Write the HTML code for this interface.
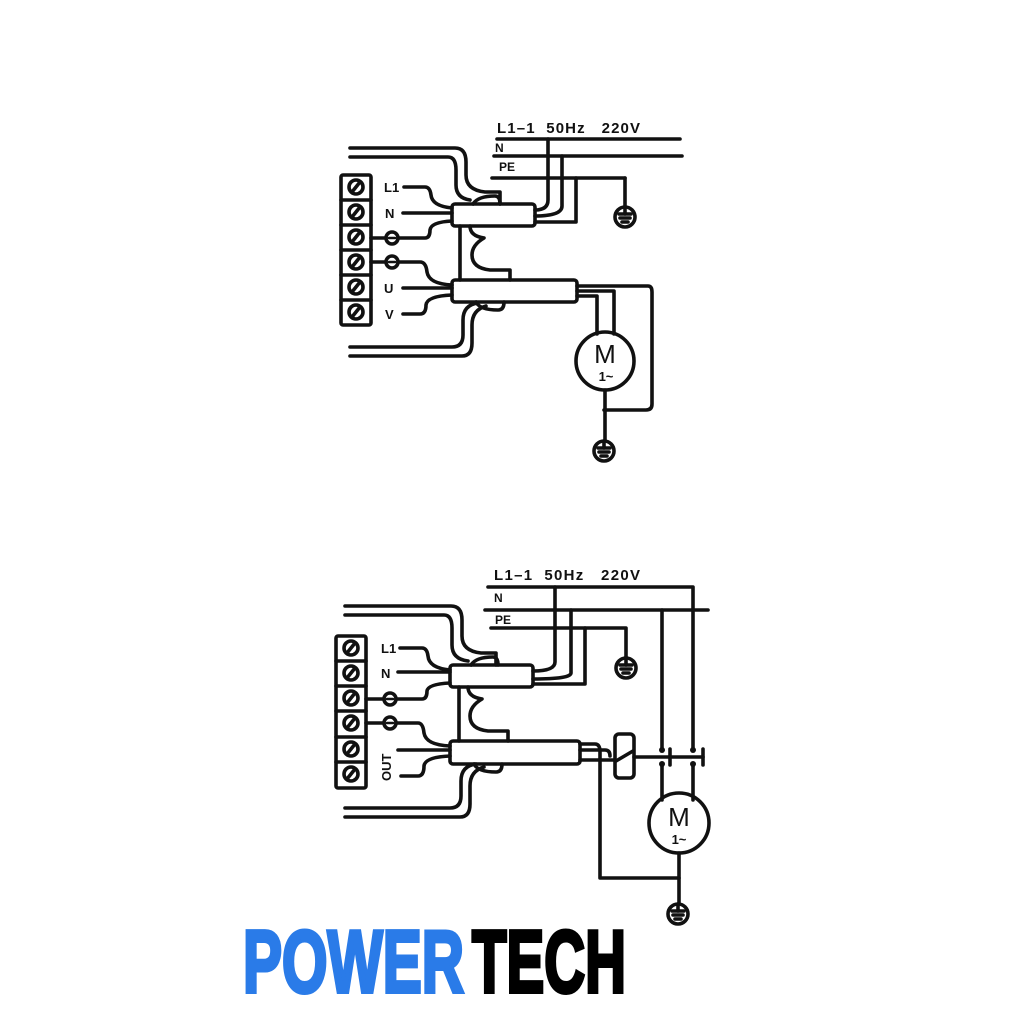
<!DOCTYPE html>
<html><head><meta charset="utf-8"><style>
html,body{margin:0;padding:0;background:#fff;}
svg{display:block;}
text{font-family:"Liberation Sans",sans-serif;font-weight:bold;fill:#111;}
</style></head><body>
<svg width="1024" height="1024" viewBox="0 0 1024 1024" xmlns="http://www.w3.org/2000/svg">
<g fill="none" stroke="#111" stroke-width="3.6" stroke-linecap="round" stroke-linejoin="round">
<!-- ===== TOP DIAGRAM ===== -->
<rect x="341" y="175" width="30" height="150" rx="2"/>
<line x1="341" y1="200" x2="371" y2="200"/><line x1="341" y1="225" x2="371" y2="225"/>
<line x1="341" y1="250" x2="371" y2="250"/><line x1="341" y1="275" x2="371" y2="275"/>
<line x1="341" y1="300" x2="371" y2="300"/>
<circle cx="356" cy="187" r="7"/><circle cx="356" cy="212" r="7"/><circle cx="356" cy="237" r="7"/>
<circle cx="356" cy="262" r="7"/><circle cx="356" cy="287" r="7"/><circle cx="356" cy="312" r="7"/>
<line x1="352" y1="192" x2="360" y2="182"/><line x1="352" y1="217" x2="360" y2="207"/><line x1="352" y1="242" x2="360" y2="232"/>
<line x1="352" y1="267" x2="360" y2="257"/><line x1="352" y1="292" x2="360" y2="282"/><line x1="352" y1="317" x2="360" y2="307"/>
<circle cx="392" cy="238" r="6"/><circle cx="392" cy="262" r="6"/>
<line x1="389" y1="238" x2="395" y2="238" stroke-width="2.5"/><line x1="389" y1="262" x2="395" y2="262" stroke-width="2.5"/>
<line x1="371" y1="238" x2="386" y2="238"/><line x1="371" y1="262" x2="386" y2="262"/>
<path d="M404 187 H425 Q430 187 431 195 Q432 206 452 208"/>
<path d="M403 213 H452"/>
<path d="M398 238 H425 Q430 238 430 230 Q431 222 452 221"/>
<path d="M398 262 H420 Q426 262 427 272 Q429 284 452 285"/>
<path d="M403 288 H452"/>
<path d="M403 314 H420 Q426 314 426 305 Q427 296 452 295"/>
<rect x="452" y="204" width="83" height="22" rx="3"/>
<rect x="452" y="280" width="125" height="22" rx="3"/>
<line x1="460" y1="226" x2="460" y2="280"/>
<path d="M470 226 Q470 236 484 238 Q472 245 472 255 Q472 268 490 270 H510 V280"/>
<path d="M473 204 Q478 196 495 196 Q500 196 500 204"/>
<path d="M476 302 Q480 310 498 310 Q504 310 504 302"/>
<path d="M350 148 H455 Q466 148 466 162 V175 Q466 190 485 192 H500 V204"/>
<path d="M350 157 H448 Q456 157 456 170 V185 Q456 198 470 200"/>
<path d="M350 347 H452 Q463 347 463 335 V320 Q463 305 478 303"/>
<path d="M350 356 H462 Q472 356 472 343 V325 Q472 310 486 306"/>
<line x1="497" y1="139" x2="680" y2="139"/>
<line x1="494" y1="156" x2="682" y2="156"/>
<line x1="492" y1="178" x2="625" y2="178"/>
<path d="M548 139 V200 Q548 210 535 210"/>
<path d="M562 156 V206 Q562 216 535 216"/>
<path d="M576 178 V222 H535"/>
<line x1="625" y1="178" x2="625" y2="207"/>
<circle cx="625" cy="217" r="10"/>
<line x1="619" y1="214" x2="631" y2="214"/><line x1="620" y1="218" x2="630" y2="218"/><line x1="622" y1="222" x2="628" y2="222"/><line x1="625" y1="207" x2="625" y2="214"/>
<path d="M577 286 H648 Q652 286 652 292 V404 Q652 410 646 410 H604"/>
<path d="M577 291 H614 V334"/>
<path d="M577 296 H597 V334"/>
<circle cx="605" cy="361" r="29"/>
<line x1="605" y1="390" x2="605" y2="441"/>
<circle cx="604" cy="451" r="10"/>
<line x1="598" y1="448" x2="610" y2="448"/><line x1="599" y1="452" x2="609" y2="452"/><line x1="601" y1="456" x2="607" y2="456"/><line x1="604" y1="441" x2="604" y2="448"/>

<!-- ===== BOTTOM DIAGRAM ===== -->
<rect x="336" y="636" width="30" height="152" rx="2"/>
<line x1="336" y1="661" x2="366" y2="661"/><line x1="336" y1="686" x2="366" y2="686"/>
<line x1="336" y1="711" x2="366" y2="711"/><line x1="336" y1="737" x2="366" y2="737"/>
<line x1="336" y1="762" x2="366" y2="762"/>
<circle cx="351" cy="648" r="7"/><circle cx="351" cy="673" r="7"/><circle cx="351" cy="698" r="7"/>
<circle cx="351" cy="723" r="7"/><circle cx="351" cy="749" r="7"/><circle cx="351" cy="774" r="7"/>
<line x1="347" y1="653" x2="355" y2="643"/><line x1="347" y1="678" x2="355" y2="668"/><line x1="347" y1="703" x2="355" y2="693"/>
<line x1="347" y1="728" x2="355" y2="718"/><line x1="347" y1="754" x2="355" y2="744"/><line x1="347" y1="779" x2="355" y2="769"/>
<circle cx="390" cy="699" r="6"/><circle cx="390" cy="723" r="6"/>
<line x1="387" y1="699" x2="393" y2="699" stroke-width="2.5"/><line x1="387" y1="723" x2="393" y2="723" stroke-width="2.5"/>
<line x1="366" y1="699" x2="384" y2="699"/><line x1="366" y1="723" x2="384" y2="723"/>
<path d="M400 648 H422 Q427 648 428 656 Q429 668 450 670"/>
<path d="M398 672 H450"/>
<path d="M396 699 H422 Q427 699 427 691 Q428 684 450 683"/>
<path d="M396 723 H418 Q423 723 424 733 Q426 745 450 746"/>
<path d="M398 750 H450"/>
<path d="M401 776 H418 Q424 776 424 766 Q425 757 450 756"/>
<rect x="450" y="665" width="83" height="22" rx="3"/>
<rect x="450" y="741" width="130" height="23" rx="3"/>
<line x1="459" y1="687" x2="459" y2="741"/>
<path d="M468 687 Q468 697 482 699 Q470 706 470 716 Q470 729 488 731 H508 V741"/>
<path d="M471 665 Q476 657 493 657 Q498 657 498 665"/>
<path d="M474 764 Q478 772 496 772 Q502 772 502 764"/>
<path d="M345 606 H451 Q462 606 462 620 V636 Q462 651 481 653 H496 V665"/>
<path d="M345 615 H444 Q452 615 452 628 V645 Q452 659 468 661"/>
<path d="M345 808 H450 Q461 808 461 796 V781 Q461 766 476 764"/>
<path d="M345 817 H460 Q470 817 470 804 V786 Q470 771 484 767"/>
<path d="M488 587 H693 V750"/>
<line x1="485" y1="610" x2="708" y2="610"/>
<line x1="662" y1="610" x2="662" y2="750"/>
<path d="M491 628 H626 V657"/>
<circle cx="626" cy="668" r="10"/>
<line x1="620" y1="665" x2="632" y2="665"/><line x1="621" y1="669" x2="631" y2="669"/><line x1="623" y1="673" x2="629" y2="673"/><line x1="626" y1="657" x2="626" y2="665"/>
<path d="M555 587 V662 Q555 671 533 671"/>
<path d="M571 610 V673 Q571 679 533 679"/>
<path d="M585 628 V684 H533"/>
<rect x="615" y="734" width="19" height="44" rx="4"/>
<line x1="616" y1="761" x2="633" y2="751"/>
<path d="M580 744 H595 Q600 744 600 752 V878 H679"/>
<path d="M580 750 H605 Q610 750 610 756"/>
<path d="M580 760 H615"/>
<line x1="634" y1="757" x2="703" y2="757"/>
<line x1="670" y1="749" x2="670" y2="765"/><line x1="703" y1="749" x2="703" y2="765"/>
<line x1="662" y1="764" x2="662" y2="800"/><line x1="693" y1="764" x2="693" y2="800"/>
<circle cx="679" cy="823" r="30"/>
<line x1="679" y1="853" x2="679" y2="904"/>
<circle cx="678" cy="914" r="10"/>
<line x1="672" y1="911" x2="684" y2="911"/><line x1="673" y1="915" x2="683" y2="915"/><line x1="675" y1="919" x2="681" y2="919"/><line x1="678" y1="904" x2="678" y2="911"/>
</g>
<g fill="#111">
<circle cx="662" cy="750" r="3"/><circle cx="662" cy="764" r="3"/>
<circle cx="693" cy="750" r="3"/><circle cx="693" cy="764" r="3"/>
</g>
<text x="497" y="133" font-size="15" textLength="143" lengthAdjust="spacing">L1–1&#160;&#160;50Hz&#160;&#160;&#160;220V</text>
<text x="495" y="152" font-size="12">N</text>
<text x="499" y="171" font-size="12">PE</text>
<text x="384" y="192" font-size="13">L1</text>
<text x="385" y="218" font-size="13">N</text>
<text x="384" y="293" font-size="13">U</text>
<text x="385" y="319" font-size="13">V</text>
<text x="605" y="363" font-size="26" text-anchor="middle" style="font-weight:normal">M</text>
<text x="606" y="381" font-size="13" text-anchor="middle">1~</text>
<text x="494" y="580" font-size="15" textLength="146" lengthAdjust="spacing">L1–1&#160;&#160;50Hz&#160;&#160;&#160;220V</text>
<text x="494" y="602" font-size="12">N</text>
<text x="495" y="624" font-size="12">PE</text>
<text x="381" y="653" font-size="13">L1</text>
<text x="381" y="678" font-size="13">N</text>
<text transform="translate(391,781) rotate(-90)" font-size="13">OUT</text>
<text x="679" y="826" font-size="26" text-anchor="middle" style="font-weight:normal">M</text>
<text x="679" y="844" font-size="13" text-anchor="middle">1~</text>
<text x="243" y="992" font-size="88" textLength="221" lengthAdjust="spacingAndGlyphs" style="fill:#2a7be8;stroke:#2a7be8;stroke-width:4;font-weight:bold">POWER</text>
<text x="472" y="992" font-size="88" textLength="154" lengthAdjust="spacingAndGlyphs" style="fill:#000;stroke:#000;stroke-width:4;font-weight:bold">TECH</text>
</svg>
</body></html>
